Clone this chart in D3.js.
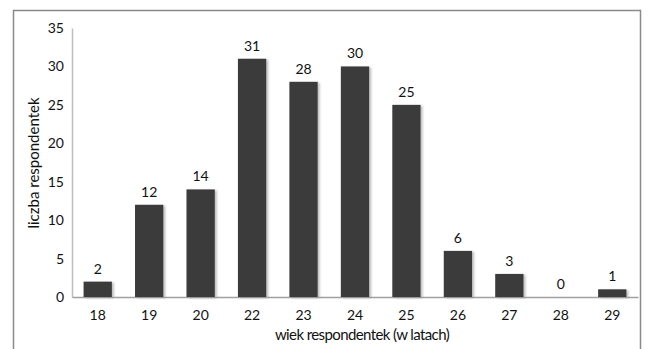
<!DOCTYPE html>
<html>
<head>
<meta charset="utf-8">
<script src="https://cdn.jsdelivr.net/npm/d3@7"></script>
<style>
  html, body { margin: 0; padding: 0; background: #fff; }
  svg { display: block; }
  text { font-family: Lato, "Open Sans", sans-serif; fill: #111; }
</style>
</head>
<body>
<svg id="chart" width="650" height="349"></svg>
<script>
// Age of respondents (years) and number of respondents in each group
const ages = ["18", "19", "20", "22", "23", "24", "25", "26", "27", "28", "29"];
const counts = [2, 12, 14, 31, 28, 30, 25, 6, 3, 0, 1];
const yTicks = [0, 5, 10, 15, 20, 25, 30, 35];
const xTitle = "wiek respondentek (w latach)";
const yTitle = "liczba respondentek";

const svg = d3.select("#chart");

// soft drop shadow under the bars
const defs = svg.append("defs");
const f = defs.append("filter").attr("id", "shadow")
  .attr("x", "-20%").attr("y", "-20%").attr("width", "150%").attr("height", "150%");
f.append("feDropShadow").attr("dx", 2).attr("dy", 1).attr("stdDeviation", 1)
  .attr("flood-color", "#888").attr("flood-opacity", 0.55);

// outer frame
svg.append("rect")
  .attr("x", 13.5).attr("y", 10.5).attr("width", 627).attr("height", 360)
  .attr("fill", "none").attr("stroke", "#8a8a8a").attr("stroke-width", 1.5);

const plot = { left: 72, right: 638, top: 28, bottom: 297 };

const x = d3.scaleBand().domain(ages).range([plot.left, plot.right])
  .paddingInner(0.45).paddingOuter(0.225);
const y = d3.scaleLinear().domain([0, 35]).range([plot.bottom, plot.top]);

// y axis
const yAxis = svg.append("g").attr("transform", `translate(${plot.left},0)`)
  .call(d3.axisLeft(y).tickValues(yTicks).tickSize(0).tickPadding(8));
yAxis.select(".domain").attr("stroke", "#bdbdbd").attr("stroke-width", 1.5);
yAxis.selectAll("text").style("font-size", "14px").style("font-family", "Lato, sans-serif")
  .attr("fill", "#111");

// x axis
const xAxis = svg.append("g").attr("transform", `translate(0,${plot.bottom})`)
  .call(d3.axisBottom(x).tickSize(0).tickPadding(13));
xAxis.select(".domain").attr("stroke", "#a0a0a0").attr("stroke-width", 1.5);
xAxis.selectAll("text").style("font-size", "14px").style("font-family", "Lato, sans-serif")
  .attr("fill", "#111");

// bars
svg.append("g").selectAll("rect")
  .data(counts)
  .join("rect")
  .attr("x", (d, i) => x(ages[i]))
  .attr("y", d => y(d))
  .attr("width", x.bandwidth())
  .attr("height", d => y(0) - y(d))
  .attr("fill", "#3a3a3a")
  .attr("filter", "url(#shadow)");

// value labels
svg.append("g").selectAll("text")
  .data(counts)
  .join("text")
  .attr("x", (d, i) => x(ages[i]) + x.bandwidth() / 2)
  .attr("y", d => y(d) - 8)
  .attr("text-anchor", "middle")
  .style("font-size", "14px")
  .text(d => d);

// axis titles
svg.append("text")
  .attr("x", 362).attr("y", 340)
  .attr("text-anchor", "middle")
  .style("font-size", "15px")
  .style("letter-spacing", "-0.6px")
  .text(xTitle);

svg.append("text")
  .attr("transform", "translate(39,163) rotate(-90)")
  .attr("text-anchor", "middle")
  .style("font-size", "15px")
  .text(yTitle);
</script>
</body>
</html>
